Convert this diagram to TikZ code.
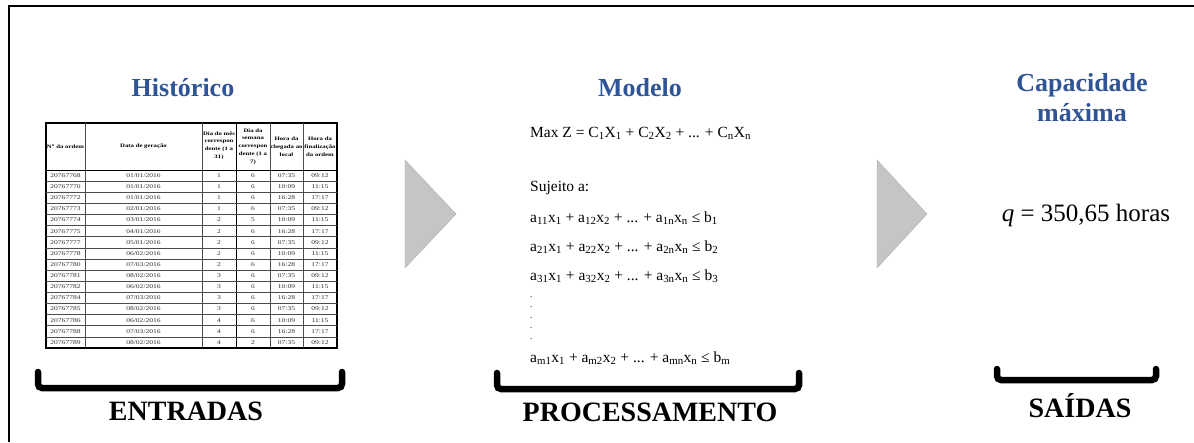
\documentclass[tikz,border=0pt]{standalone}
\usepackage{fontspec}
\setmainfont{Liberation Serif}
\newfontfamily\tablefont[FakeStretch=1.3]{Liberation Serif}
\definecolor{titleblue}{RGB}{47,85,151}
\definecolor{arrowgray}{RGB}{197,197,197}
\definecolor{celltext}{RGB}{45,45,45}
\tikzset{
  title/.style={font=\bfseries\fontsize{26}{30}\selectfont, text=titleblue, inner sep=0pt},
  label/.style={font=\bfseries\fontsize{28}{30}\selectfont, inner sep=0pt},
  eq/.style={font=\fontsize{15.5}{17}\selectfont, anchor=west, inner sep=0pt},
  dotnode/.style={font=\fontsize{9}{9}\selectfont, anchor=west, inner sep=0pt},
  bracket/.style={line width=6.5pt, line cap=round, rounded corners=4pt},
  chevron/.style={fill=arrowgray, draw=arrowgray!85!black, line width=0.3pt},
  cell/.style={font=\tablefont\fontsize{5.8}{6}\selectfont, text=celltext, inner sep=0pt},
  hcell/.style={font=\tablefont\bfseries\fontsize{5.2}{7.8}\selectfont, align=center, inner sep=0pt},
  grid/.style={line width=0.6pt, draw=black!70}
}
\begin{document}
\begin{tikzpicture}[x=1pt,y=-1pt]
\useasboundingbox (0,0) rectangle (1194,442);
% frame (top and left only)
\draw[line width=2pt] (1194,6) -- (9,6) -- (9,442);

% titles
\node[title] (hist) at (183,88) {Histórico};
\node[title] (mod) at (640,88) {Modelo};
\node[title, align=center] (cap) at (1082,98) {Capacidade\\máxima};

% table
\def\tl{46}\def\tr{337}\def\tt{123}\def\th{170}\def\tb{348}
\draw[line width=1.4pt] (\tl,\tt) rectangle (\tr,\tb);
\foreach \cx in {85,202,270,303} \draw[grid] (\cx,\tt) -- (\cx,\tb);
\draw[line width=1pt] (236,\tt) -- (236,\tb);
\draw[line width=1pt] (\tl,\th) -- (\tr,\th);
\foreach \i in {1,...,15} \draw[grid] (\tl,{\th+\i*11.125}) -- (\tr,{\th+\i*11.125});
% header
\node[hcell] (h1) at (65.5,146.5) {N\textsuperscript{o} da ordem};
\node[hcell] (h2) at (143.5,146.5) {Data de geração};
\node[hcell] (h3) at (219,145.5) {Dia do mês\\correspon\\dente (1 a\\31)};
\node[hcell] (h4) at (253,146.5) {Dia da\\semana\\correspon\\dente (1 a\\7)};
\node[hcell] (h5) at (286.5,146.5) {Hora da\\chegada ao\\local};
\node[hcell] (h6) at (320,146.5) {Hora da\\finalização\\da ordem};
% rows
\foreach [count=\r] \a/\b/\c/\d/\e/\f in {
 20767768/01\slash 01\slash 2016/1/6/07:35/09:12,
 20767770/01\slash 01\slash 2016/1/6/10:09/11:15,
 20767772/01\slash 01\slash 2016/1/6/16:28/17:17,
 20767773/02\slash 01\slash 2016/1/6/07:35/09:12,
 20767774/03\slash 01\slash 2016/2/5/10:09/11:15,
 20767775/04\slash 01\slash 2016/2/6/16:28/17:17,
 20767777/05\slash 01\slash 2016/2/6/07:35/09:12,
 20767778/06\slash 02\slash 2016/2/6/10:09/11:15,
 20767780/07\slash 03\slash 2016/2/6/16:28/17:17,
 20767781/08\slash 02\slash 2016/3/6/07:35/09:12,
 20767782/06\slash 02\slash 2016/3/6/10:09/11:15,
 20767784/07\slash 03\slash 2016/3/6/16:28/17:17,
 20767785/08\slash 02\slash 2016/3/6/07:35/09:12,
 20767786/06\slash 02\slash 2016/4/6/10:09/11:15,
 20767788/07\slash 03\slash 2016/4/6/16:28/17:17,
 20767789/08\slash 02\slash 2016/4/2/07:35/09:12} {
  \pgfmathsetmacro{\ry}{\th+(\r-0.5)*11.125}
  \node[cell] (ra\r) at (65.5,\ry) {\a};
  \node[cell] (rb\r) at (143.5,\ry) {\b};
  \node[cell] (rc\r) at (219,\ry) {\c};
  \node[cell] (rd\r) at (253,\ry) {\d};
  \node[cell] (re\r) at (286.5,\ry) {\e};
  \node[cell] (rf\r) at (320,\ry) {\f};
}

% chevrons
\draw[chevron] (405,160) -- (456,214) -- (405,268) -- cycle;
\draw[chevron] (877,160) -- (927,214) -- (877,268) -- cycle;

% model
\node[eq] (e0) at (530,133) {Max Z = C\textsubscript{1}X\textsubscript{1} + C\textsubscript{2}X\textsubscript{2} + ... + C\textsubscript{n}X\textsubscript{n}};
\node[eq] (e1) at (530,188) {Sujeito a:};
\node[eq] (e2) at (530,218) {a\textsubscript{11}x\textsubscript{1} + a\textsubscript{12}x\textsubscript{2} + ... + a\textsubscript{1n}x\textsubscript{n} ≤ b\textsubscript{1}};
\node[eq] (e3) at (530,247) {a\textsubscript{21}x\textsubscript{1} + a\textsubscript{22}x\textsubscript{2} + ... + a\textsubscript{2n}x\textsubscript{n} ≤ b\textsubscript{2}};
\node[eq] (e4) at (530,276) {a\textsubscript{31}x\textsubscript{1} + a\textsubscript{32}x\textsubscript{2} + ... + a\textsubscript{3n}x\textsubscript{n} ≤ b\textsubscript{3}};
\foreach \k in {0,...,4} \node[dotnode] (d\k) at (530,{297+\k*10.5}) {.};
\node[eq] (e5) at (530,358) {a\textsubscript{m1}x\textsubscript{1} + a\textsubscript{m2}x\textsubscript{2} + ... + a\textsubscript{mn}x\textsubscript{n} ≤ b\textsubscript{m}};

% output
\node[font=\fontsize{25}{27}\selectfont, inner sep=0pt] (q) at (1086,215) {\textit{q} = 350,65 horas};

% brackets
\draw[bracket] (38,372) -- (38,388) -- (342,388) -- (342,372);
\draw[bracket] (497,373) -- (497,389) -- (799,389) -- (799,373);
\draw[bracket] (997,369) -- (997,380) -- (1156,380) -- (1156,369);

% labels
\node[label] (in) at (186,411) {ENTRADAS};
\node[label] (proc) at (650,412) {PROCESSAMENTO};
\node[label] (out) at (1080,406) {SAÍDAS};
\end{tikzpicture}
\end{document}
